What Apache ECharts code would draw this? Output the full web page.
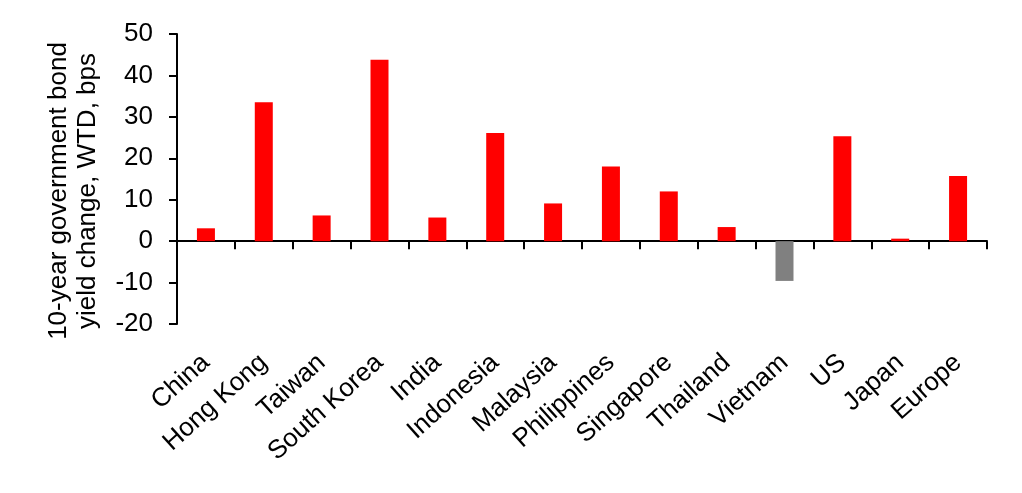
<!DOCTYPE html>
<html>
<head>
<meta charset="utf-8">
<script src="https://cdn.jsdelivr.net/npm/echarts@6/dist/echarts.min.js"></script>
<style>
html,body{margin:0;padding:0;background:#fff;}
#chart{width:1022px;height:493px;}
</style>
</head>
<body>
<div id="chart"></div>
<script>
const categories = ["China","Hong Kong","Taiwan","South Korea","India","Indonesia","Malaysia","Philippines","Singapore","Thailand","Vietnam","US","Japan","Europe"];
const yieldChange = [3.1, 33.5, 6.2, 43.8, 5.7, 26.1, 9.1, 18.0, 12.0, 3.4, -9.6, 25.3, 0.6, 15.7];
const yTicks = { min: -20, max: 50, interval: 10 };
const yAxisName = "10-year government bond\nyield change, WTD, bps";

const FONT = '"Liberation Sans", Arial, sans-serif';
const chart = echarts.init(document.getElementById('chart'), null, {renderer: 'canvas'});
chart.setOption({
  animation: false,
  backgroundColor: '#fff',
  grid: { left: 177, right: 35, top: 34, bottom: 169 },
  xAxis: [
    {
      type: 'category', data: categories, position: 'bottom',
      axisLine: { show: true, onZero: true, lineStyle: { color: '#000', width: 2 } },
      axisTick: { show: true, interval: 0, length: 8, lineStyle: { color: '#000', width: 2 } },
      axisLabel: { show: false },
      splitLine: { show: false }
    },
    {
      type: 'category', data: categories, position: 'bottom',
      axisLine: { show: false, onZero: false },
      axisTick: { show: false },
      axisLabel: { show: true, interval: 0, rotate: 42, margin: 35, color: '#000', fontSize: 26, fontFamily: FONT },
      splitLine: { show: false }
    }
  ],
  yAxis: {
    type: 'value', min: yTicks.min, max: yTicks.max, interval: yTicks.interval,
    name: yAxisName, nameLocation: 'middle', nameGap: 75, nameRotate: 90,
    nameTextStyle: { color: '#000', fontSize: 26, fontFamily: FONT, lineHeight: 29, padding: [0, 24, 0, 0] },
    axisLine: { show: true, lineStyle: { color: '#000', width: 2 } },
    axisTick: { show: true, length: 8, lineStyle: { color: '#000', width: 2 } },
    axisLabel: { color: '#000', fontSize: 26, fontFamily: FONT, margin: 24 },
    splitLine: { show: false }
  },
  series: [{
    type: 'bar', xAxisIndex: 0, data: yieldChange, barWidth: 18,
    itemStyle: { color: p => p.value < 0 ? '#808080' : '#FF0000' }
  }]
});
</script>
</body>
</html>
